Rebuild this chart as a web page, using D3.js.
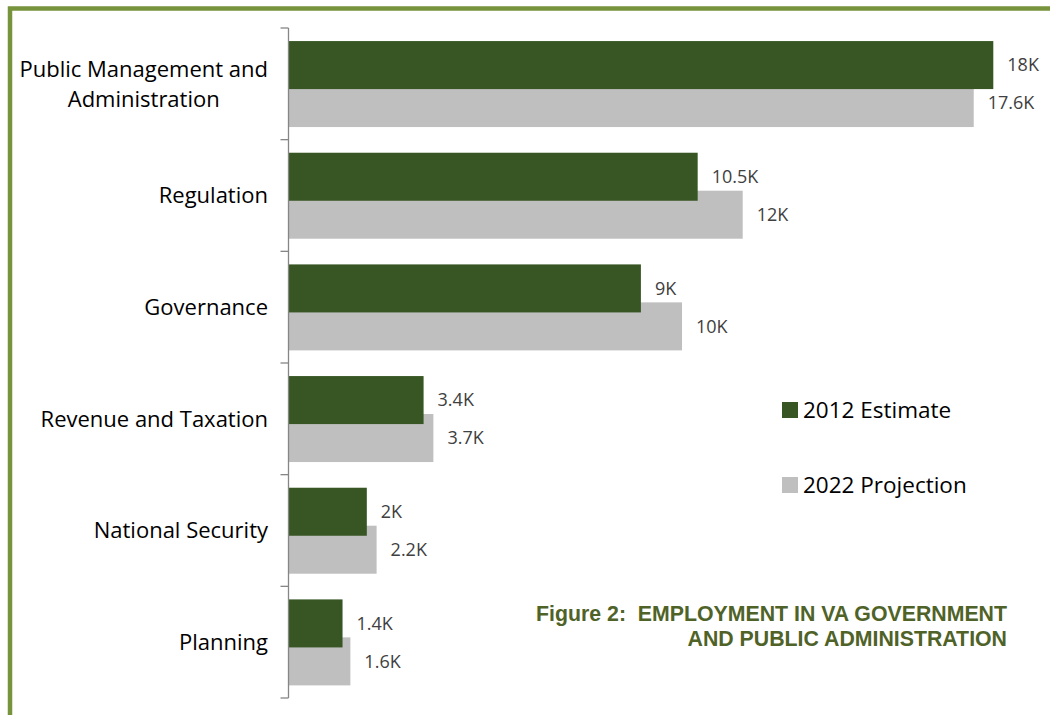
<!DOCTYPE html>
<html>
<head>
<meta charset="utf-8">
<script src="https://cdn.jsdelivr.net/npm/d3@7"></script>
<style>
  html, body { margin: 0; padding: 0; background: #fff; }
  svg { display: block; }
</style>
</head>
<body>
<div id="chart"></div>
<script>
// categories, top to bottom
var categories = ['Public Management and|Administration', 'Regulation', 'Governance',
	'Revenue and Taxation', 'National Security', 'Planning'];
// jobs
var estimate2012 = [18000, 10450, 9000, 3450, 2000, 1380];
var projection2022 = [17500, 11600, 10050, 3700, 2250, 1580];
// data labels as printed on the chart
var estimateLabels = ['18K', '10.5K', '9K', '3.4K', '2K', '1.4K'];
var projectionLabels = ['17.6K', '12K', '10K', '3.7K', '2.2K', '1.6K'];
var seriesNames = ['2012 Estimate', '2022 Projection'];
var seriesColors = ['#375623', '#bfbfbf'];

var W = 1050, H = 715;
var margin = { top: 28, left: 288.5, bottom: 17 };
var font = "'Open Sans', 'Noto Sans', sans-serif";

var svg = d3.select('#chart').append('svg')
	.attr('width', W)
	.attr('height', H);

// frame (green border, left and top)
svg.append('path')
	.attr('d', 'M10,' + H + 'V8.5H' + W)
	.attr('fill', 'none')
	.attr('stroke', '#77933c')
	.attr('stroke-width', 4.5);

var yScale = d3.scaleBand()
	.domain(d3.range(categories.length))
	.range([margin.top, H - margin.bottom]);

var xScale = d3.scaleLinear()
	.domain([0, 18000])
	.range([margin.left, 993.3]);

var bw = yScale.bandwidth();
var barH = bw * 0.43;
var greenOff = bw * 0.117;
var greyOff = greenOff + bw * 0.34;

// grey bars first (behind)
svg.selectAll('rect.proj')
	.data(projection2022)
	.enter()
	.append('rect')
	.attr('class', 'proj')
	.attr('x', xScale(0))
	.attr('y', function (d, i) { return yScale(i) + greyOff; })
	.attr('width', function (d) { return xScale(d) - xScale(0); })
	.attr('height', barH)
	.attr('fill', seriesColors[1]);

svg.selectAll('rect.est')
	.data(estimate2012)
	.enter()
	.append('rect')
	.attr('class', 'est')
	.attr('x', xScale(0))
	.attr('y', function (d, i) { return yScale(i) + greenOff; })
	.attr('width', function (d) { return xScale(d) - xScale(0); })
	.attr('height', barH)
	.attr('fill', seriesColors[0]);

// value labels
svg.selectAll('text.estLbl')
	.data(estimate2012)
	.enter()
	.append('text')
	.attr('class', 'estLbl')
	.attr('x', function (d) { return xScale(d) + 14; })
	.attr('y', function (d, i) { return yScale(i) + greenOff + barH / 2; })
	.attr('dy', '0.35em')
	.style('font-family', font)
	.style('font-size', '18px')
	.attr('fill', '#404040')
	.text(function (d, i) { return estimateLabels[i]; });

svg.selectAll('text.projLbl')
	.data(projection2022)
	.enter()
	.append('text')
	.attr('class', 'projLbl')
	.attr('x', function (d) { return xScale(d) + 14; })
	.attr('y', function (d, i) { return yScale(i) + greyOff + barH / 2; })
	.attr('dy', '0.35em')
	.style('font-family', font)
	.style('font-size', '18px')
	.attr('fill', '#404040')
	.text(function (d, i) { return projectionLabels[i]; });

// Y axis with outer ticks between categories
var axis = svg.append('g').attr('class', 'y axis');
axis.append('line')
	.attr('x1', margin.left).attr('x2', margin.left)
	.attr('y1', yScale.range()[0]).attr('y2', yScale.range()[1])
	.attr('stroke', '#868686').attr('stroke-width', 1.3);
axis.selectAll('line.tick')
	.data(d3.range(categories.length + 1))
	.enter()
	.append('line')
	.attr('class', 'tick')
	.attr('x1', margin.left - 8).attr('x2', margin.left)
	.attr('y1', function (i) { return yScale.range()[0] + i * yScale.step(); })
	.attr('y2', function (i) { return yScale.range()[0] + i * yScale.step(); })
	.attr('stroke', '#868686').attr('stroke-width', 1.3);

// category labels (multi-line ones are centred on their widest line)
var labelRight = 268;
svg.selectAll('text.cat')
	.data(categories)
	.enter()
	.append('text')
	.attr('class', 'cat')
	.style('font-family', font)
	.style('font-size', '22px')
	.attr('fill', '#000')
	.each(function (d, i) {
		var lines = d.split('|');
		var cy = yScale(i) + bw / 2;
		var lh = 30;
		var t = d3.select(this);
		var spans = lines.map(function (l, j) {
			return t.append('tspan')
				.attr('y', cy + (j - (lines.length - 1) / 2) * lh)
				.attr('dy', '0.35em')
				.text(l);
		});
		var widths = spans.map(function (s) { return s.node().getComputedTextLength(); });
		var cx = labelRight - d3.max(widths) / 2;
		spans.forEach(function (s) {
			s.attr('x', cx).attr('text-anchor', 'middle');
		});
	});

// legend
var legend = svg.append('g').attr('class', 'legend');
var legY = [410, 485];
seriesNames.forEach(function (name, i) {
	legend.append('rect')
		.attr('x', 782)
		.attr('y', legY[i] - 8)
		.attr('width', 16)
		.attr('height', 16)
		.attr('fill', seriesColors[i]);
	legend.append('text')
		.attr('x', 803)
		.attr('y', legY[i])
		.attr('dy', '0.35em')
		.style('font-family', font)
		.style('font-size', '22.5px')
		.attr('fill', '#000')
		.text(name);
});

// figure title
var title = svg.append('text')
	.attr('text-anchor', 'end')
	.style('font-family', "'Liberation Sans Narrow', 'Liberation Sans', sans-serif")
	.style('font-weight', 'bold')
	.style('font-size', '21.3px')
	.attr('fill', '#4f6228');
title.append('tspan').attr('x', 1007).attr('y', 621)
	.attr('xml:space', 'preserve')
	.text('Figure 2:  EMPLOYMENT IN VA GOVERNMENT');
title.append('tspan').attr('x', 1007).attr('y', 646)
	.text('AND PUBLIC ADMINISTRATION');
</script>
</body>
</html>
